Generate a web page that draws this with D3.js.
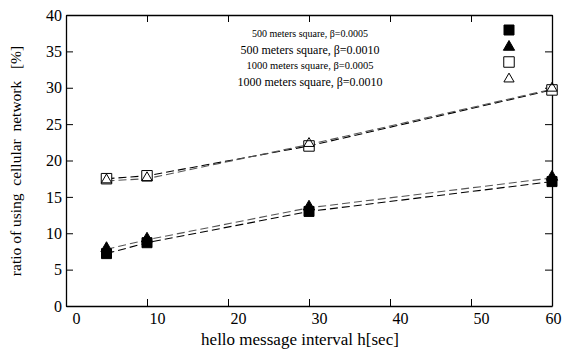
<!DOCTYPE html>
<html>
<head>
<meta charset="utf-8">
<script src="https://cdn.jsdelivr.net/npm/d3@7"></script>
<style>
  body { margin: 0; background: #fff; }
  svg text { font-family: "Liberation Serif", "Times New Roman", Times, serif !important; fill: #000; }
</style>
</head>
<body>
<div id="chart"></div>
<script>
// data
var intervals = [5, 10, 30, 60];
var sq500b5 = [7.2, 8.7, 13.0, 17.1];
var tri500b10 = [7.8, 9.1, 13.5, 17.6];
var sq1000b5 = [17.5, 17.9, 22.0, 29.7];
var tri1000b10 = [17.2, 17.5, 22.2, 29.8];
var xTicks = [0, 10, 20, 30, 40, 50, 60];
var yTicks = [0, 5, 10, 15, 20, 25, 30, 35, 40];

var series = [
  { name: "500 meters square, \u03b2=0.0005", values: sq500b5, shape: d3.symbolSquare, size: 100, filled: true, stroke: "#000", fontSize: 10 },
  { name: "500 meters square, \u03b2=0.0010", values: tri500b10, shape: d3.symbolTriangle, size: 55, filled: true, stroke: "#555", fontSize: 12 },
  { name: "1000 meters square, \u03b2=0.0005", values: sq1000b5, shape: d3.symbolSquare, size: 110, filled: false, stroke: "#000", fontSize: 10.5 },
  { name: "1000 meters square, \u03b2=0.0010", values: tri1000b10, shape: d3.symbolTriangle, size: 45, filled: false, stroke: "#555", fontSize: 12 }
];

var W = 563, H = 350;
var margin = { top: 15, right: 11, bottom: 44, left: 66 };
var width = W - margin.left - margin.right,
    height = H - margin.top - margin.bottom;

var svg = d3.select("#chart").append("svg")
  .attr("width", W)
  .attr("height", H);

var g = svg.append("g")
  .attr("transform", "translate(" + margin.left + "," + margin.top + ")");

var x = d3.scaleLinear().domain([0, 60]).range([0, width]);
var y = d3.scaleLinear().domain([0, 40]).range([height, 0]);

// axes, ticks pointing inward
var bottom = g.append("g")
  .attr("transform", "translate(0," + height + ")")
  .call(d3.axisBottom(x).tickValues(xTicks).tickSizeInner(-7).tickSizeOuter(0).tickPadding(7));
bottom.selectAll("text").attr("dx", function(d) { return d === 60 ? 1 : 10; }).style("font-size", "16px");

var left = g.append("g")
  .call(d3.axisLeft(y).tickValues(yTicks).tickSizeInner(-7).tickSizeOuter(0).tickPadding(4));
left.selectAll("text").style("font-size", "16px");

g.append("g")
  .call(d3.axisTop(x).tickValues(xTicks).tickSizeInner(-7).tickSizeOuter(0).tickFormat(""));
g.append("g")
  .attr("transform", "translate(" + width + ",0)")
  .call(d3.axisRight(y).tickValues(yTicks).tickSizeInner(-7).tickSizeOuter(0).tickFormat(""));

g.selectAll(".domain").attr("stroke", "#000").attr("stroke-width", 1.3);
g.selectAll(".tick line").attr("stroke", "#000");

// axis titles
svg.append("text")
  .attr("x", margin.left + width / 2 - 9)
  .attr("y", 345)
  .attr("text-anchor", "middle")
  .style("font-size", "17px")
  .text("hello message interval h[sec]");

svg.append("text")
  .attr("transform", "translate(21," + (margin.top + 146) + ") rotate(-90)")
  .attr("text-anchor", "middle")
  .style("font-size", "15.5px")
  .style("white-space", "pre")
  .text("ratio of using  cellular  network   [%]");

// dashed lines
var line = d3.line()
  .x(function(d, i) { return x(intervals[i]); })
  .y(function(d) { return y(d); });

series.forEach(function(s) {
  g.append("path")
    .datum(s.values)
    .attr("d", line)
    .attr("fill", "none")
    .attr("stroke", s.stroke)
    .attr("stroke-width", 1.1)
    .attr("stroke-dasharray", "8,4");
});

// markers
series.forEach(function(s) {
  var sym = d3.symbol().type(s.shape).size(s.size);
  g.selectAll(null)
    .data(s.values)
    .enter().append("path")
    .attr("transform", function(d, i) {
      var dy = s.shape === d3.symbolTriangle ? -1 : 0;
      return "translate(" + x(intervals[i]) + "," + (y(d) + dy) + ")";
    })
    .attr("d", sym)
    .attr("fill", s.filled ? "#000" : (s.shape === d3.symbolSquare ? "#fff" : "none"))
    .attr("stroke", "#000")
    .attr("stroke-width", 1);
});

// legend
var legendY = [37, 54, 69, 86];
var legendSymY = [30, 46, 62, 78];
var legend = svg.append("g");
series.forEach(function(s, i) {
  legend.append("text")
    .attr("x", 310)
    .attr("y", legendY[i])
    .attr("text-anchor", "middle")
    .style("font-size", s.fontSize + "px")
    .text(s.name);
  legend.append("path")
    .attr("transform", "translate(509," + (legendSymY[i] + (s.shape === d3.symbolTriangle ? 1 : 0)) + ")")
    .attr("d", d3.symbol().type(s.shape).size(s.size)())
    .attr("fill", s.filled ? "#000" : "#fff")
    .attr("stroke", "#000")
    .attr("stroke-width", 1);
});
</script>
</body>
</html>
